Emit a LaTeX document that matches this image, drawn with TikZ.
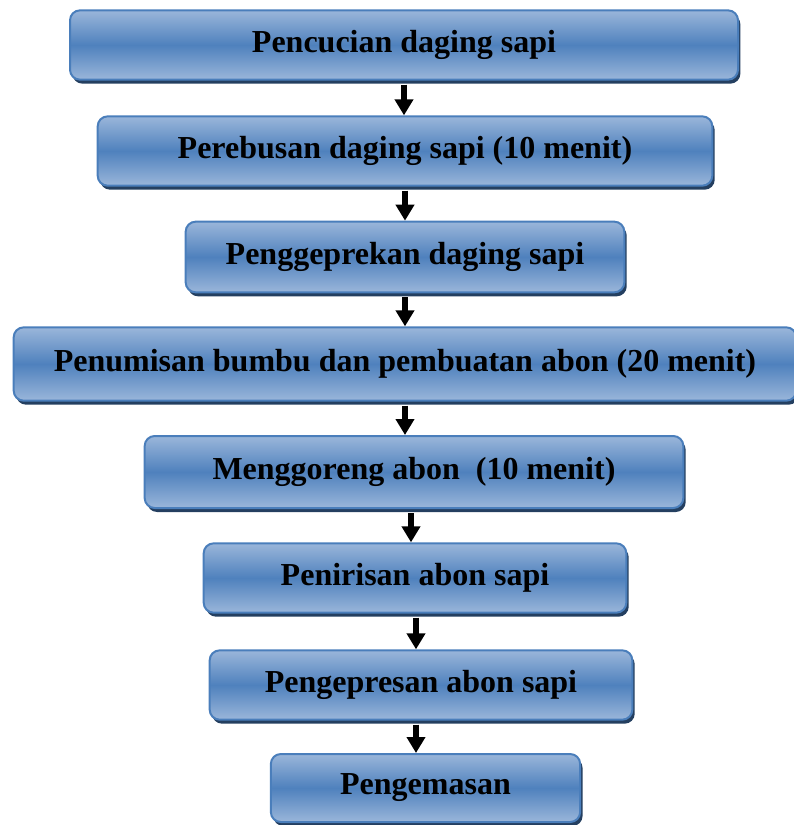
\documentclass[tikz,border=0pt]{standalone}
\usepackage{fontspec}
\setmainfont{Liberation Serif}
\usetikzlibrary{arrows.meta,shadows}
\definecolor{boxlight}{HTML}{9AB6DA}
\definecolor{boxdark}{HTML}{4F81BD}
\definecolor{boxedge}{HTML}{4A7EBB}
\definecolor{boxshadow}{HTML}{243F60}
\tikzset{
  stepbox/.style={draw=boxedge, line width=1.5pt, rounded corners=7.5pt,
    top color=boxlight, bottom color=boxlight, middle color=boxdark,
    drop shadow={shadow xshift=1.8pt, shadow yshift=-3pt, fill=boxshadow, opacity=1},
    font=\fontsize{24}{28}\selectfont\bfseries, inner sep=0pt},
  flow/.style={line width=5pt, -{Triangle[width=13.5pt,length=12pt]}}
}
\begin{document}
\begin{tikzpicture}[x=0.75pt,y=-0.75pt]
\useasboundingbox (0,0) rectangle (793,825);
\node[stepbox, minimum width=501pt, minimum height=52pt] (wash) at (404,45) {Pencucian daging sapi};
\node[stepbox, minimum width=461pt, minimum height=52pt] (boil) at (405,151) {Perebusan daging sapi (10 menit)};
\node[stepbox, minimum width=329pt, minimum height=53pt] (pound) at (405,257) {Penggeprekan daging sapi};
\node[stepbox, minimum width=587pt, minimum height=55pt] (saute) at (405,364) {Penumisan bumbu dan pembuatan abon (20 menit)};
\node[stepbox, minimum width=404pt, minimum height=54pt] (fry) at (414,472) {Menggoreng abon\ \ (10 menit)};
\node[stepbox, minimum width=317pt, minimum height=52pt] (drain) at (415,578) {Penirisan abon sapi};
\node[stepbox, minimum width=317pt, minimum height=52pt] (press) at (421,685) {Pengepresan abon sapi};
\node[stepbox, minimum width=232pt, minimum height=51pt] (pack) at (425.5,788) {Pengemasan};
% arrows between steps
\foreach \a/\b/\x in {wash/boil/404,boil/pound/405,pound/saute/405,saute/fry/405,fry/drain/411,drain/press/416,press/pack/416}{
  \draw[flow] ([yshift=-3pt]\a.south -| \x,0) -- (\b.north -| \x,0);
}
\end{tikzpicture}
\end{document}
